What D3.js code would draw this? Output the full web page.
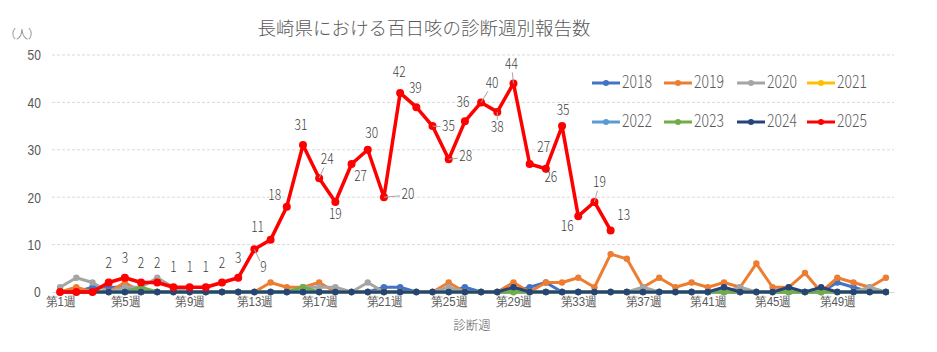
<!DOCTYPE html>
<html>
<head>
<meta charset="utf-8">
<script src="https://cdn.jsdelivr.net/npm/d3@7"></script>
<style>
  body { margin: 0; background: #fff; }
  svg { font-family: "Noto Sans CJK JP", sans-serif; font-weight: 300; }
</style>
</head>
<body>
<div id="chart"></div>
<script>
// 診断週 1..52
const weeks = d3.range(1, 53);
const years = ["2018", "2019", "2020", "2021", "2022", "2023", "2024", "2025"];
const colors = ["#4472C4", "#ED7D31", "#A5A5A5", "#FFC000", "#5B9BD5", "#70AD47", "#264478", "#FF0000"];

const v2018 = [0,0,1,1,1,0,0,0,0,0, 0,0,0,0,0,0,0,0,0,0, 1,1,0,0,0,1,0,0,0,1, 2,0,0,0,0,0,0,0,0,0, 0,0,0,0,0,0,0,0,2,1, 0,0];
const v2019 = [0,1,0,0,2,0,0,0,0,0, 0,0,0,2,1,1,2,0,0,0, 0,0,0,0,2,0,0,0,2,0, 2,2,3,1,8,7,1,3,1,2, 1,2,1,6,1,1,4,0,3,2, 1,3];
const v2020 = [1,3,2,0,1,1,3,1,0,0, 0,0,0,0,0,1,1,1,0,2, 0,0,0,0,1,0,0,0,0,0, 0,0,0,0,0,0,1,0,0,0, 0,0,1,0,0,0,0,0,0,0, 1,0];
const v2021 = [0,0,0,0,0,0,0,0,0,0, 0,0,0,0,0,0,0,0,0,0, 0,0,0,0,0,0,0,0,0,0, 0,0,0,0,0,0,0,0,0,0, 0,0,0,0,0,0,0,0,0,0, 0,0];
const v2022 = [0,0,0,0,0,0,0,0,0,0, 0,0,0,0,0,0,0,0,0,0, 0,0,0,0,0,0,0,0,0,0, 0,0,0,0,0,0,0,0,0,0, 0,0,0,0,0,0,0,0,0,0, 0,0];
const v2023 = [0,0,0,0,0,1,0,0,0,0, 0,0,0,0,0,1,0,0,0,0, 0,0,0,0,0,0,0,0,0,0, 0,0,0,0,0,0,0,0,0,0, 0,0,0,0,0,0,0,0,0,0, 0,0];
const v2024 = [0,0,0,0,0,0,0,0,0,0, 0,0,0,0,0,0,0,0,0,0, 0,0,0,0,0,0,0,0,1,0, 0,0,0,0,0,0,0,0,0,0, 0,1,0,0,0,1,0,1,0,0, 0,0];
// 2025年は第35週まで
const v2025 = [0,0,0,2,3,2,2,1,1,1, 2,3,9,11,18,31,24,19,27,30, 20,42,39,35,28,36,40,38,44,27, 26,35,16,19,13];

const yTicks = [0, 10, 20, 30, 40, 50];
const xTickWeeks = [1, 5, 9, 13, 17, 21, 25, 29, 33, 37, 41, 45, 49];

// 2025年データラベルの位置 [dx, dy, 引出線]
const labelPos = {
  13: [9, 19, 1], 14: [-13, -12, 0], 15: [-12, -11, 0], 16: [-2, -19, 0],
  17: [8, -18, 1], 18: [0, 13, 0], 19: [9, 13, 0], 20: [4, -16, 0],
  21: [24, -2, 1], 22: [-1, -20, 0], 23: [-1, -18, 0], 24: [16, 1, 1],
  25: [17, -2, 1], 26: [-2, -18, 0], 27: [11, -18, 1], 28: [0, 16, 1],
  29: [-2, -19, 1], 30: [14, -16, 0], 31: [5, 9, 0], 32: [1, -15, 0],
  33: [-11, 11, 0], 34: [5, -19, 1], 35: [13, -14, 0]
};

const allValues = [v2018, v2019, v2020, v2021, v2022, v2023, v2024, v2025];

const width = 937, height = 352;
const plot = {left: 52, right: 894, top: 55, bottom: 292};
const narrow = 0.8; // 数字を細く見せる

const svg = d3.select("#chart")
  .append("svg")
  .attr("width", width)
  .attr("height", height);

const x = d3.scalePoint()
  .domain(weeks)
  .range([plot.left, plot.right])
  .padding(0.5);

const y = d3.scaleLinear()
  .domain([0, 50])
  .range([plot.bottom, plot.top]);

// title
svg.append("text")
  .attr("x", 424)
  .attr("y", 30)
  .attr("text-anchor", "middle")
  .attr("dominant-baseline", "middle")
  .style("font-size", "18.5px")
  .style("fill", "#595959")
  .text("長崎県における百日咳の診断週別報告数");

svg.append("text")
  .attr("x", 22)
  .attr("y", 36)
  .attr("text-anchor", "middle")
  .attr("dominant-baseline", "middle")
  .style("font-size", "12px")
  .style("fill", "#595959")
  .text("（人）");

// grid
svg.append("g")
  .selectAll("line")
  .data(yTicks.filter(d => d > 0))
  .join("line")
  .attr("x1", plot.left)
  .attr("x2", plot.right)
  .attr("y1", d => y(d))
  .attr("y2", d => y(d))
  .attr("stroke", "#D9D9D9")
  .attr("stroke-width", 1)
  .attr("stroke-dasharray", "3,2");

// y axis
const yAxis = svg.append("g")
  .attr("transform", `translate(${plot.left},0)`)
  .call(d3.axisLeft(y).tickValues(yTicks).tickSize(0).tickPadding(14));
yAxis.select(".domain").remove();
yAxis.selectAll("text")
  .attr("transform", `scale(${narrow},1)`)
  .style("font-size", "15px")
  .style("fill", "#595959");

// x axis
const xAxis = svg.append("g")
  .attr("transform", `translate(0,${plot.bottom})`)
  .call(d3.axisBottom(x).tickValues(xTickWeeks).tickSize(0).tickPadding(5).tickFormat(d => "第" + d + "週"));
xAxis.select(".domain")
  .attr("stroke", "#D9D9D9");
xAxis.selectAll("text")
  .attr("transform", "scale(0.92,1)")
  .style("font-size", "12.5px")
  .style("fill", "#595959");

svg.append("text")
  .attr("x", 472)
  .attr("y", 327)
  .attr("text-anchor", "middle")
  .attr("dominant-baseline", "middle")
  .style("font-size", "12.5px")
  .style("fill", "#595959")
  .text("診断週");

// lines
const line = d3.line()
  .x((d, i) => x(weeks[i]))
  .y(d => y(d));

allValues.forEach((vals, k) => {
  const isMain = k === 7;
  const g = svg.append("g");
  g.append("path")
    .datum(vals)
    .attr("fill", "none")
    .attr("stroke", colors[k])
    .attr("stroke-width", isMain ? 3.5 : 3)
    .attr("stroke-linejoin", "round")
    .attr("d", line);
  g.selectAll("circle")
    .data(vals)
    .join("circle")
    .attr("cx", (d, i) => x(weeks[i]))
    .attr("cy", d => y(d))
    .attr("r", isMain ? 4 : 3.2)
    .attr("fill", colors[k]);
});

// 2025 data labels
const labels = svg.append("g");
v2025.forEach((d, i) => {
  if (d === 0) return;
  const wk = weeks[i];
  const p = labelPos[wk] || [0, -19, 0];
  const px = x(wk), py = y(d);
  const lx = px + p[0], ly = py + p[1];
  if (p[2]) {
    const dist = Math.hypot(p[0], p[1]);
    const t = Math.max(0, (dist - 8) / dist);
    labels.append("line")
      .attr("x1", px)
      .attr("y1", py)
      .attr("x2", px + p[0] * t)
      .attr("y2", py + p[1] * t)
      .attr("stroke", "#A6A6A6")
      .attr("stroke-width", 1);
  }
  labels.append("text")
    .attr("transform", `translate(${lx},${ly}) scale(${narrow},1)`)
    .attr("text-anchor", "middle")
    .attr("dominant-baseline", "middle")
    .style("font-size", "15px")
    .style("fill", "#404040")
    .text(d);
});

// legend
const legendCols = [592, 664, 737, 807];
const legendRows = [83, 122];
const legend = svg.append("g");
years.forEach((yr, k) => {
  const lx = legendCols[k % 4];
  const ly = legendRows[Math.floor(k / 4)];
  legend.append("line")
    .attr("x1", lx)
    .attr("x2", lx + 28)
    .attr("y1", ly)
    .attr("y2", ly)
    .attr("stroke", colors[k])
    .attr("stroke-width", 3);
  legend.append("circle")
    .attr("cx", lx + 14)
    .attr("cy", ly)
    .attr("r", 3)
    .attr("fill", colors[k]);
  legend.append("text")
    .attr("transform", `translate(${lx + 30},${ly}) scale(${narrow},1)`)
    .attr("dominant-baseline", "middle")
    .style("font-size", "17.5px")
    .style("fill", "#595959")
    .text(yr);
});
</script>
</body>
</html>
